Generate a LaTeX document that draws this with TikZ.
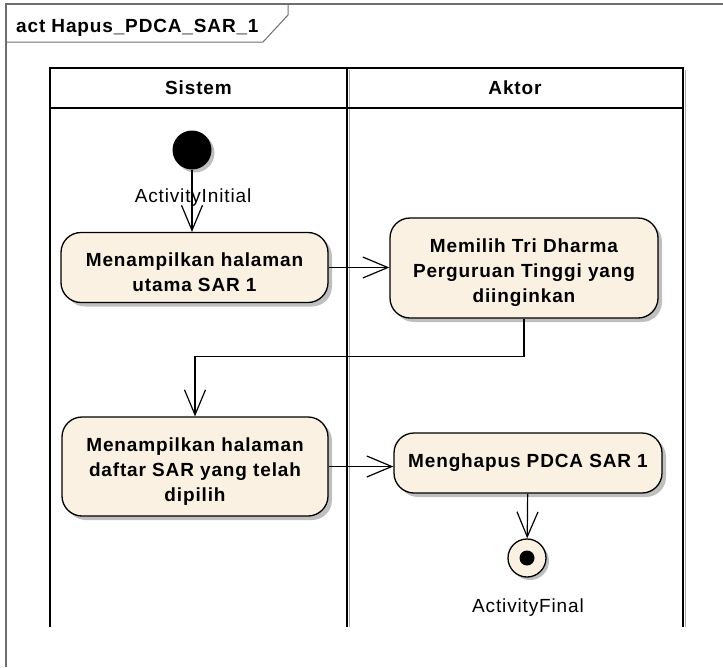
\documentclass[tikz,border=0pt]{standalone}
\usepackage{fontspec}
\setmainfont{Liberation Sans}[LetterSpace=4.5]
\usetikzlibrary{arrows.meta, positioning, shadows}
\definecolor{actfill}{RGB}{251,241,227}
\definecolor{shadowgray}{RGB}{175,175,175}
\definecolor{framegray}{RGB}{110,110,110}
\newcommand{\actstrut}{\rule{0pt}{24pt}}
\tikzset{
  % Corsie
  lane/.style={line width=2pt, black},
  lane title/.style={font=\bfseries\fontsize{19}{25}\selectfont},
  % Azioni
  action/.style={draw, line width=1.3pt, fill=actfill, rounded corners=20pt,
    align=center, inner sep=0pt, font=\bfseries\fontsize{19}{25}\selectfont,
    drop shadow={shadow xshift=4pt, shadow yshift=-4pt, fill=shadowgray, opacity=0.8}},
  start/.style={circle, fill=black, minimum size=39pt, inner sep=0pt,
    drop shadow={shadow xshift=3pt, shadow yshift=-3pt, fill=shadowgray, opacity=0.8}},
  final/.style={circle, draw, line width=1.3pt, fill=actfill, minimum size=38pt, inner sep=0pt,
    path picture={\fill[black] (path picture bounding box.center) circle (7.5pt);},
    drop shadow={shadow xshift=3pt, shadow yshift=-3pt, fill=shadowgray, opacity=0.8}},
  state label/.style={font=\fontsize{19}{25}\selectfont},
  % Connessioni
  flow/.style={line width=1.2pt, -{Straight Barb[length=25pt, width=21pt, line width=1.2pt]}}
}
\begin{document}
\begin{tikzpicture}[x=1pt,y=-1pt]
  \useasboundingbox (0,0) rectangle (723,667);
  % cornice
  \draw[framegray, line width=1.2pt] (6,667) -- (6,4) -- (723,4);
  \draw[framegray, line width=1pt] (6,42) -- (263,42) -- (288,15) -- (288,4);
  \node[anchor=base west, inner sep=0pt, font=\bfseries\fontsize{19}{25}\selectfont] (title) at (16,32) {act Hapus\_PDCA\_SAR\_1};
  % corsie
  \draw[shadowgray, line width=1.5pt] (349.5,70) -- (349.5,627) (685.5,70) -- (685.5,627);
  \draw[lane] (50,627) -- (50,68) -- (683,68) -- (683,627);
  \draw[lane] (50,108) -- (683,108);
  \draw[lane] (347,68) -- (347,627);
  \node[lane title] (sistem) at (198.5,88) {Sistem};
  \node[lane title] (aktor) at (515,88) {Aktor};
  % nodi
  \node[start] (init) at (192,150) {};
  \node[action, minimum width=267pt, minimum height=70pt] (showmain) at (194.5,267.5)
    {\actstrut Menampilkan halaman\\utama SAR 1};
  \node[action, minimum width=268pt, minimum height=100pt] (choose) at (524,268)
    {\actstrut Memilih Tri Dharma\\Perguruan Tinggi yang\\diinginkan};
  \node[action, minimum width=266pt, minimum height=99pt] (showlist) at (195,466.5)
    {\actstrut Menampilkan halaman\\daftar SAR yang telah\\dipilih};
  \node[action, minimum width=268pt, minimum height=60pt] (delete) at (528,463)
    {Menghapus PDCA SAR 1};
  \node[final] (end) at (527,558) {};
  % connessioni
  \draw[flow] (init) -- (init |- showmain.north);
  \draw[flow] (showmain.east) -- (showmain.east -| choose.west);
  \draw[flow] (choose.south) -- ++(0,38) -| (showlist.north);
  \draw[flow] (showlist.east) -- (showlist.east -| delete.west);
  \draw[flow] (delete) -- (end);
  % etichette
  \node[state label, anchor=base, inner sep=0pt] (initlabel) at (193,202) {ActivityInitial};
  \node[state label, anchor=base, inner sep=0pt] (endlabel) at (528,612) {ActivityFinal};
\end{tikzpicture}
\end{document}
